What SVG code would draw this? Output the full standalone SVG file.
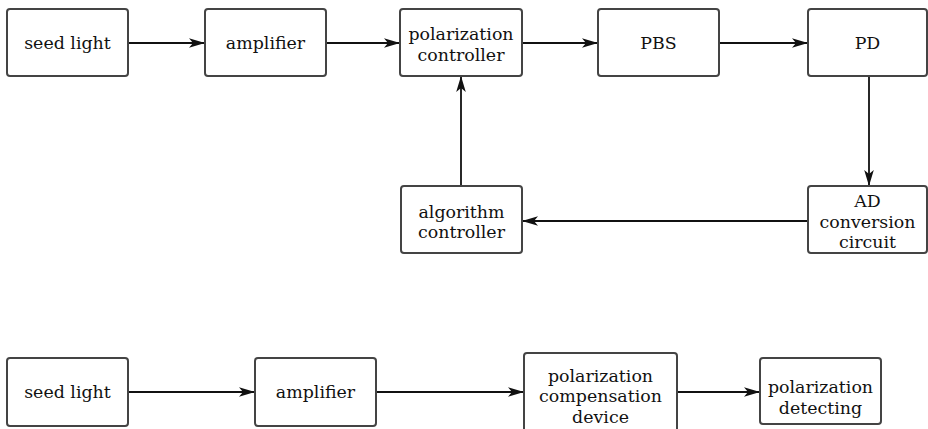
<svg xmlns="http://www.w3.org/2000/svg" width="928" height="429" viewBox="0 0 928 429">
<style>
.box{fill:#fff;stroke:#444;stroke-width:2}
.t{font-family:"DejaVu Serif","Liberation Serif",serif;font-size:17.4px;fill:#111;text-anchor:middle}
.c{fill:none;stroke:#111;stroke-width:1.8}
</style>
<defs>
<marker id="ah" markerUnits="userSpaceOnUse" markerWidth="20" markerHeight="12" viewBox="-1 -6 18 12" refX="16" refY="0" orient="auto">
<path d="M0,-4.8 L16,0 L0,4.8 L4,0 Z" fill="#111"/>
</marker>
</defs>
<rect width="928" height="429" fill="#fff"/>
<g id="connectors">
<line class="c" x1="128" y1="43" x2="205" y2="43" marker-end="url(#ah)"/>
<line class="c" x1="326" y1="43" x2="400" y2="43" marker-end="url(#ah)"/>
<line class="c" x1="522" y1="43" x2="598" y2="43" marker-end="url(#ah)"/>
<line class="c" x1="719" y1="43" x2="808" y2="43" marker-end="url(#ah)"/>
<line class="c" x1="869" y1="76" x2="869" y2="186" marker-end="url(#ah)"/>
<line class="c" x1="808" y1="221" x2="522" y2="221" marker-end="url(#ah)"/>
<line class="c" x1="461" y1="186" x2="461" y2="76" marker-end="url(#ah)"/>
<line class="c" x1="128" y1="392" x2="255" y2="392" marker-end="url(#ah)"/>
<line class="c" x1="376" y1="392" x2="524" y2="392" marker-end="url(#ah)"/>
<line class="c" x1="677" y1="392" x2="760" y2="392" marker-end="url(#ah)"/>
</g>
<g id="seed1"><rect class="box" x="7" y="9" width="121" height="67" rx="3"/><text class="t" x="67.5" y="49">seed light</text></g>
<g id="amp1"><rect class="box" x="205" y="9" width="121" height="67" rx="3"/><text class="t" x="265.5" y="49">amplifier</text></g>
<g id="polctrl"><rect class="box" x="400" y="9" width="122" height="67" rx="3"/><text class="t" x="461" y="40">polarization</text><text class="t" x="461" y="60.5">controller</text></g>
<g id="pbs"><rect class="box" x="598" y="9" width="121" height="67" rx="3"/><text class="t" x="658.5" y="49">PBS</text></g>
<g id="pd"><rect class="box" x="808" y="9" width="119" height="67" rx="3"/><text class="t" x="867.5" y="49">PD</text></g>
<g id="alg"><rect class="box" x="401" y="186" width="121" height="67" rx="3"/><text class="t" x="461.5" y="217.5">algorithm</text><text class="t" x="461.5" y="238">controller</text></g>
<g id="adc"><rect class="box" x="808" y="186" width="119" height="67" rx="3"/><text class="t" x="867.5" y="207">AD</text><text class="t" x="867.5" y="227.5">conversion</text><text class="t" x="867.5" y="248">circuit</text></g>
<g id="seed2"><rect class="box" x="7" y="358" width="121" height="68" rx="3"/><text class="t" x="67.5" y="398">seed light</text></g>
<g id="amp2"><rect class="box" x="255" y="358" width="121" height="68" rx="3"/><text class="t" x="315.5" y="398">amplifier</text></g>
<g id="comp"><rect class="box" x="524" y="353" width="153" height="90" rx="3"/><text class="t" x="600.5" y="381.5">polarization</text><text class="t" x="600.5" y="402">compensation</text><text class="t" x="600.5" y="422.5">device</text></g>
<g id="detect"><rect class="box" x="760" y="358" width="121" height="66" rx="3"/><text class="t" x="820.5" y="393">polarization</text><text class="t" x="820.5" y="413.5">detecting</text></g>
</svg>
